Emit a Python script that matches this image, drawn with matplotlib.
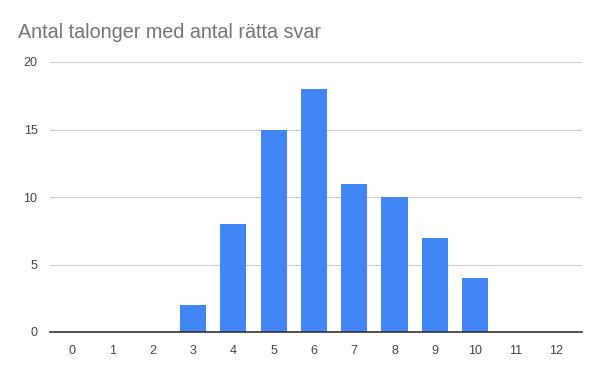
import matplotlib.pyplot as plt
import numpy as np

# number of correct answers and how many coupons got that many
svar = [0, 1, 2, 3, 4, 5, 6, 7, 8, 9, 10, 11, 12]
antal = [0, 0, 0, 2, 8, 15, 18, 11, 10, 7, 4, 0, 0]

plt.rcParams['font.family'] = ['Liberation Sans', 'DejaVu Sans']

fig = plt.figure(figsize=(6, 3.71), dpi=100)
ax = fig.add_axes([50/600, 39/371, 532/600, 270/371])

x = np.arange(len(svar))
ax.bar(x, antal, width=0.65, color='#4285F4', zorder=3)

ax.set_xlim(-0.55, 12.65)
ax.set_ylim(0, 20)
ax.set_xticks(x)
ax.set_xticklabels([str(s) for s in svar])
ax.set_yticks([0, 5, 10, 15, 20])

ax.grid(axis='y', color='#cccccc', linewidth=0.8, zorder=0)
for side in ['top', 'right', 'left']:
    ax.spines[side].set_visible(False)
ax.spines['bottom'].set_color('#333333')
ax.spines['bottom'].set_linewidth(1.2)
ax.spines['bottom'].set_zorder(4)
ax.tick_params(axis='both', length=0, labelsize=9, colors='#444444')
ax.tick_params(axis='x', pad=9)
ax.tick_params(axis='y', pad=9)

fig.text(18/600, 1 - 32/371, 'Antal talonger med antal rätta svar',
         fontsize=14.2, color='#757575', va='center', ha='left')

plt.savefig('out.png', dpi=100)
